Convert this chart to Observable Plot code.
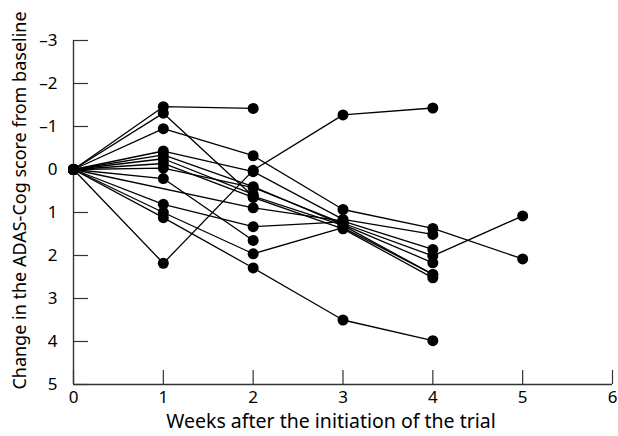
<!DOCTYPE html>
<html><head>
<meta charset="utf-8">
<script src="https://cdn.jsdelivr.net/npm/d3@7"></script>
<script src="https://cdn.jsdelivr.net/npm/@observablehq/plot@0.6"></script>
<style>html,body{margin:0;padding:0;background:#fff} svg{display:block}</style>
</head><body><div id="chart"></div>
<script>
// Weeks after initiation of the trial
const weeks = [0, 1, 2, 3, 4, 5];
// Change in ADAS-Cog score from baseline, one array per patient (null = no visit)
const p1  = [0, -1.46, -1.42];
const p2  = [0, -1.31, 0.62, 1.30, 2.44];
const p3  = [0, -0.95, -0.32, 0.93, 1.37, 2.08];
const p4  = [0, 2.18, 0.02, -1.27, -1.43];
const p5  = [0, -0.43, 0.05, 1.16, 1.51];
const p6  = [0, -0.34, 0.40, 1.28, 2.17];
const p7  = [0, -0.25, 0.58];
const p8  = [0, -0.14, 0.65, 1.38, 2.52];
const p9  = [0, -0.03, 0.42, 1.25, 2.01, 1.08];
const p10 = [0, 0.21, 1.65];
const p11 = [0, null, 0.89, 1.20, 1.86];
const p12 = [0, 0.81, 1.33, 1.22];
const p13 = [0, 1.00, 1.96, 1.35, 2.44];
const p14 = [0, 1.12, 2.29, 3.50, 3.98];
const patients = [p1, p2, p3, p4, p5, p6, p7, p8, p9, p10, p11, p12, p13, p14];

const xTicks = [0, 1, 2, 3, 4, 5, 6];
const yTicks = [-3, -2, -1, 0, 1, 2, 3, 4, 5];
const xLabel = "Weeks after the initiation of the trial";
const yLabel = "Change in the ADAS-Cog score from baseline";

const data = patients.flatMap((vals, i) =>
  vals.map((v, j) => ({id: i, week: weeks[j], change: v})).filter(d => d.change != null));

const fmt = d => d < 0 ? "\u2013" + Math.abs(d) : String(d);
const font = "'Noto Sans', sans-serif";

const chart = Plot.plot({
  width: 618, height: 436,
  marginLeft: 73, marginRight: 6, marginTop: 40, marginBottom: 52,
  style: {fontFamily: font, fontSize: "17px", color: "#000", background: "#fff", overflow: "visible"},
  x: {domain: [0, 6]},
  y: {domain: [-3, 5], reverse: true},
  marks: [
    Plot.axisX({ticks: xTicks, tickSize: -14, tickPadding: 20, tickFormat: fmt, label: null, stroke: "#333", strokeWidth: 1.2, fontSize: 17}),
    Plot.axisY({ticks: yTicks, tickSize: -15, tickPadding: 31, tickFormat: fmt, label: null, stroke: "#333", strokeWidth: 1.2, fontSize: 17}),
    Plot.ruleX([0], {stroke: "#333", strokeWidth: 1.4}),
    Plot.ruleY([5], {stroke: "#333", strokeWidth: 1.4}),
    Plot.line(data, {x: "week", y: "change", z: "id", stroke: "#000", strokeWidth: 1.3}),
    Plot.dot(data, {x: "week", y: "change", r: 5.5, fill: "#000", stroke: null}),
    Plot.text([xLabel], {frameAnchor: "bottom", dy: 37, text: d => d, fontSize: 19.5, lineAnchor: "middle", textAnchor: "middle", dx: -12}),
    Plot.text([yLabel], {frameAnchor: "left", dx: -53, dy: -12, rotate: -90, text: d => d, fontSize: 18, lineAnchor: "middle", textAnchor: "middle"})
  ]
});
document.getElementById("chart").append(chart);
</script>
</body></html>
